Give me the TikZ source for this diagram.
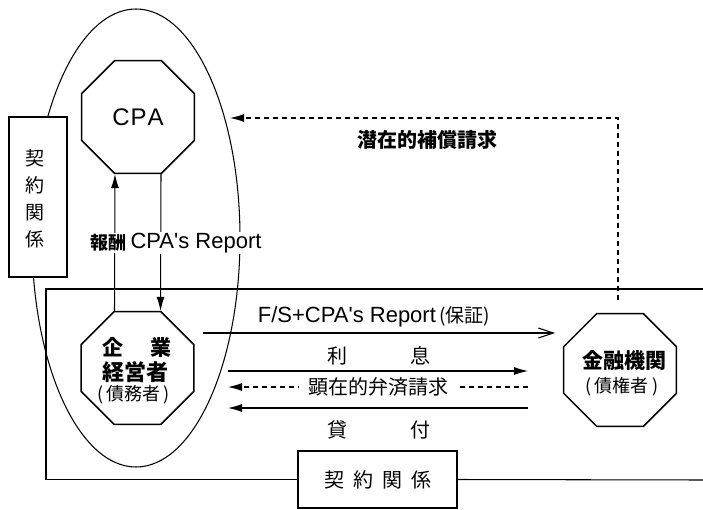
\documentclass[tikz,border=0pt]{standalone}
\usepackage{fontspec}
\setmainfont{Noto Sans CJK JP}
\newfontfamily\lat{Liberation Sans}
\usetikzlibrary{shapes.geometric,arrows.meta,calc}
\begin{document}
\begin{tikzpicture}[x=1pt,y=-1pt,
  oct/.style={draw, regular polygon, regular polygon sides=8, minimum size=122pt, inner sep=0pt, line width=1.5pt, fill=white},
  thinln/.style={line width=1.05pt},
  wlab/.style={fill=white, inner sep=1pt},
  fillhead/.style={-{Latex[length=14pt,width=8pt]}},
  openhead/.style={-{Straight Barb[length=15pt,width=10pt]}},
  dashln/.style={dash pattern=on 5pt off 4pt},
  fs/.style={font=\fontsize{#1}{#1}\selectfont}
]
\useasboundingbox (0,0) rectangle (703,510);
% contract ellipse
\draw[thinln] (136,238) ellipse [x radius=104, y radius=229];
% left contract box
\node[draw, thinln, fill=white, minimum width=58pt, minimum height=160pt, inner sep=0pt] (lbox) at (38,197) {};
\node[align=center, font=\fontsize{19}{27}\selectfont] (ltext) at (35,199) {契\\約\\関\\係};
% big rectangle and bottom contract box
\coordinate (rtl) at (46,289);
\coordinate (rtr) at (703,289);
\coordinate (rbr) at (703,480);
\node[draw, thinln, fill=white, minimum width=159pt, minimum height=57pt, fs=20] (bbox) at (377.5,479.5) {契\hspace{9pt}約\hspace{9pt}関\hspace{9pt}係};
\draw[thinln] (bbox.west) -| (rtl) -- (rtr);
\draw[thinln] (bbox.east) -- (rbr);
% octagons
\node[oct] (cpa) at (138,117) {};
\node[fs=24] (cpat) at (cpa) {\lat C\kern1pt P\kern1pt A};
\node[oct] (firm) at (137.5,368) {};
\node[fs=21] (firm1) at (137,347) {\bfseries 企\hspace{28pt}業};
\node[fs=22] (firm2) at (135,372) {\bfseries 経営者};
\node[fs=18] (firm3) at (134,395) {(\,債務者\,)};
\node[oct] (bank) at (620,370) {};
\node[fs=21] (bank1) at (624,360) {\bfseries 金融機関};
\node[fs=18] (bank2) at (622,387) {(\,債権者\,)};
% CPA <-> firm
\draw[thinln, fillhead] ($(firm.north)+(-23,0)$) -- ($(cpa.south)+(-23,0)$);
\draw[thinln, fillhead] ($(cpa.south)+(23,0)$) -- ($(firm.north)+(23,0)$);
\node[wlab, fs=18] (fee) at (108,243) {\bfseries 報酬};
\node[wlab, fs=22] (rep) at (196,243) {\lat CPA's Report};
% potential claim
\coordinate (up) at (618,300);
\coordinate (tipA) at (230,118);
\draw[thinln, dashln, fillhead] (up) |- (tipA);
\node[fs=20] (potl) at (427,140) {\bfseries 潜在的補償請求};
% horizontal flows
\coordinate (a1s) at (203,333);
\coordinate (a1e) at (555,333);
\draw[thinln, openhead] (a1s) -- (a1e);
\node[fs=20] (fsl) at (374,317) {{\lat\fontsize{22}{22}\selectfont F/S+CPA's Report}\,{\fontsize{19}{19}\selectfont (保証)}};
\coordinate (b1) at (228,371);
\coordinate (b2) at (528,371);
\draw[thinln, fillhead] (b1) -- (b2);
\node[fs=20] (int) at (379,356) {利\hspace{63pt}息};
\coordinate (c1) at (528,387);
\coordinate (c2) at (228,387);
\draw[thinln, dashln, fillhead] (c1) -- node[fill=white, inner xsep=9pt, inner ysep=1pt, fs=20] (clm) {顕在的弁済請求} (c2);
\coordinate (d1) at (528,408);
\coordinate (d2) at (228,408);
\draw[thinln, fillhead] (d1) -- (d2);
\node[fs=20] (loan) at (379,430) {貸\hspace{63pt}付};
\end{tikzpicture}
\end{document}
